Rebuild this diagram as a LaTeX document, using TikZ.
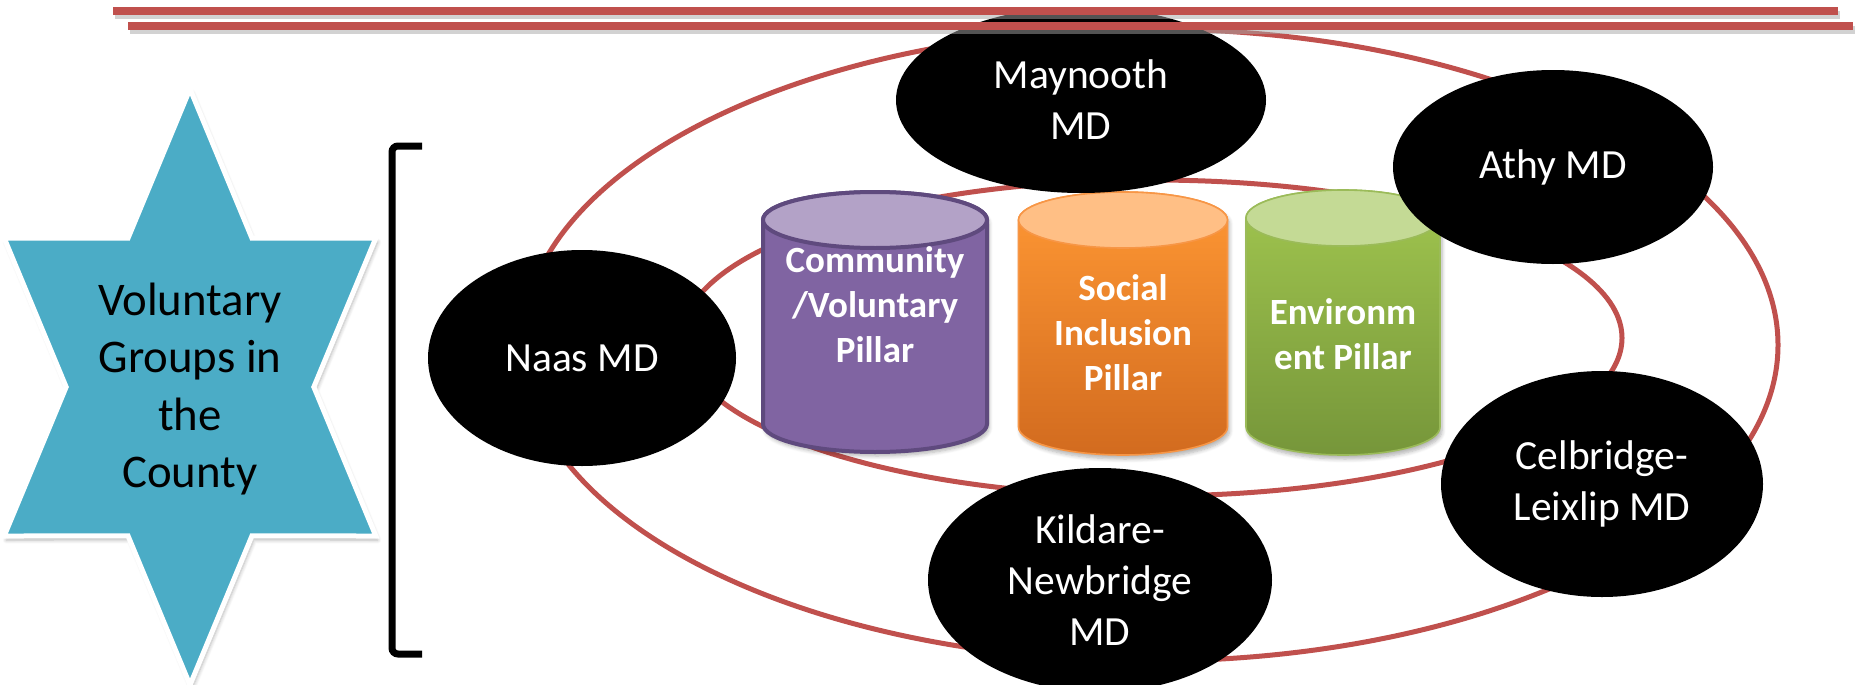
\documentclass[tikz,border=0pt]{standalone}
\usepackage{fontspec}
\setmainfont{Carlito}
\usepackage{tikz}
\usetikzlibrary{shapes.geometric,shadows.blur}

\definecolor{ringred}{HTML}{C0504D}
\definecolor{starblue}{HTML}{4BACC6}

\begin{document}
\begin{tikzpicture}[x=0.5pt,y=0.5pt,
        ring/.style={draw=ringred, line width=2.5pt},
        topbar/.style={draw=ringred, line width=4pt},
        barshadow/.style={draw=black!35, line width=4pt, opacity=0.5},
        softshadow/.style={blur shadow={shadow xshift=1pt, shadow yshift=-2pt, shadow blur steps=6, shadow opacity=30}},
        mdnode/.style={ellipse, fill=black, text=white, align=center, inner sep=0pt,
            font=\fontsize{20.75}{25.5}\selectfont},
        pillartext/.style={text=white, align=center, font=\fontsize{18.5}{22.5}\selectfont\bfseries}]
        \useasboundingbox (0,0) rectangle (1863,-685);

        % star on the left
        \filldraw[fill=starblue, draw=white, line width=2.5pt, softshadow, shift={(190,-387)}, xscale=0.72]
            (90:298) -- (120:172) -- (150:298) -- (180:172) -- (210:298) -- (240:172)
            -- (270:298) -- (300:172) -- (330:298) -- (0:172) -- (30:298) -- (60:172) -- cycle;
        \node[font=\fontsize{23.4}{28.7}\selectfont, align=center] (groups) at (190,-389)
            {Voluntary\\Groups in\\the\\County};

        % bracket
        \draw[line width=3.5pt, rounded corners=3pt] (422,-146) -- (392,-146) -- (392,-654) -- (422,-654);

        % the two rings
        \draw[ring] (1150,-345) ellipse [x radius=628, y radius=316];
        \draw[ring] (1152,-338) ellipse [x radius=470, y radius=158];

        % pillars
        \foreach \x/\w/\t/\b/\topc/\botc/\capc/\edge/\lw in {
            875/112/192/452/8064A2/8064A2/B3A2C7/5F4A7E/2pt,
            1123/104.5/192/455/FF9834/D26B1F/FFBF85/F79646/0.8pt,
            1343/97/190/455/A1C64F/76963A/C4DA95/9BBB59/0.8pt} {
            \definecolor{pt}{HTML}{\topc}
            \definecolor{pb}{HTML}{\botc}
            \definecolor{pc}{HTML}{\capc}
            \definecolor{pe}{HTML}{\edge}
            \shade[top color=pt, bottom color=pb, draw=pe, line width=\lw, softshadow]
                (\x-\w,-\t-28) -- (\x-\w,-\b+28)
                arc[start angle=180, end angle=360, x radius=\w, y radius=28]
                -- (\x+\w,-\t-28)
                arc[start angle=0, end angle=180, x radius=\w, y radius=28] -- cycle;
            \filldraw[fill=pc, draw=pe, line width=\lw] (\x,-\t-28) ellipse [x radius=\w, y radius=28];
        }
        \node[pillartext] (community) at (875,-305) {Community\\/Voluntary\\Pillar};
        \node[pillartext] (social) at (1123,-333) {Social\\Inclusion\\Pillar};
        \node[pillartext] (environment) at (1343,-334) {Environm\\ent Pillar};

        % municipal districts
        \node[mdnode, minimum width=185pt, minimum height=93pt] (maynooth) at (1081,-100) {Maynooth\\MD};
        \node[mdnode, minimum width=160pt, minimum height=97pt] (athy) at (1553,-167) {Athy MD};
        \node[mdnode, minimum width=154pt, minimum height=108pt] (naas) at (582,-358) {Naas MD};
        \node[mdnode, minimum width=161pt, minimum height=113pt] (celbridge) at (1602,-484) {Celbridge-\\Leixlip MD};
        \node[mdnode, minimum width=172pt, minimum height=112pt] (kildare) at (1100,-580) {Kildare-\\Newbridge\\MD};

        % lines along the top
        \draw[barshadow] (115,-15) -- (1840,-15);
        \draw[topbar] (113,-11) -- (1838,-11);
        \draw[barshadow] (130,-30) -- (1855,-30);
        \draw[topbar] (128,-26) -- (1853,-26);
\end{tikzpicture}
\end{document}
